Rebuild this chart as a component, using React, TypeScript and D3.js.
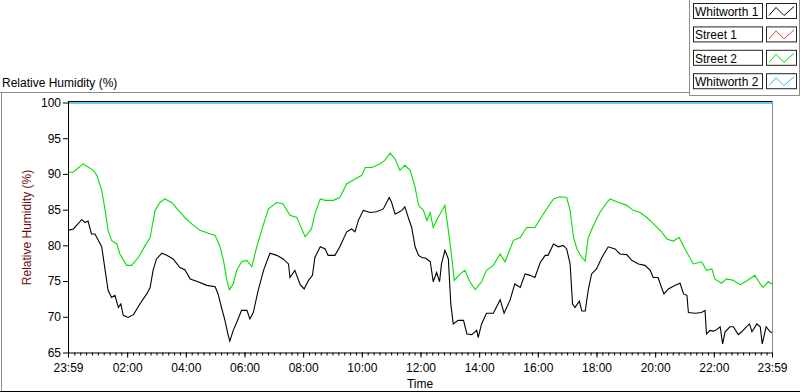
import { useRef, useEffect } from 'react';
import * as d3 from 'd3';

// legend entries (plot order)
const seriesNames = ['Whitworth 1', 'Street 1', 'Street 2', 'Whitworth 2'];
const seriesColors = ['#000000', '#ff4040', '#00e000', '#38b6f2'];

const yTicks = [65, 70, 75, 80, 85, 90, 95, 100];
const xTickLabels = ['23:59', '02:00', '04:00', '06:00', '08:00', '10:00', '12:00', '14:00', '16:00', '18:00', '20:00', '22:00', '23:59'];

// [minutes after 23:59, relative humidity %]
const whitworth1: [number, number][] = [
    [0, 82.1], [11, 82.3], [28, 83.6], [35, 83.2], [41, 83.4], [48, 81.6], [55, 81.6], [62, 80.7], [69, 79.8],
    [76, 76.5], [82, 73.7], [89, 72.7], [96, 73.0], [103, 71.3], [108, 71.8], [113, 70.2], [123, 69.9], [134, 70.3],
    [147, 71.8], [161, 73.2], [168, 74.1], [174, 76.5], [181, 78.1], [192, 78.9], [202, 78.6], [215, 78.1], [229, 76.9],
    [239, 76.6], [250, 75.3], [266, 74.9], [284, 74.4], [301, 74.2], [307, 73.2], [314, 71.3], [321, 69.5], [327, 67.6],
    [331, 66.6], [338, 68.1], [345, 69.2], [355, 70.9], [366, 70.9], [372, 69.7], [379, 70.6], [389, 73.7], [400, 76.5],
    [413, 78.9], [427, 78.6], [440, 78.1], [451, 77.4], [454, 75.5], [464, 76.5], [475, 74.5], [483, 73.9], [492, 75.1],
    [500, 75.8], [505, 78.3], [516, 79.8], [526, 79.5], [532, 78.6], [546, 78.6], [556, 79.8], [570, 81.9], [580, 82.3],
    [587, 81.9], [594, 83.5], [604, 84.9], [618, 84.6], [631, 84.7], [645, 85.1], [657, 86.7], [662, 86.0], [669, 84.4],
    [676, 84.6], [683, 84.9], [689, 85.4], [696, 83.9], [703, 82.5], [710, 79.8], [717, 78.6], [724, 78.3], [732, 78.2],
    [741, 77.7], [747, 74.9], [754, 76.2], [760, 74.9], [764, 77.4], [771, 79.3], [778, 78.1], [783, 71.8], [788, 69.0],
    [798, 69.5], [809, 69.5], [816, 67.6], [826, 67.5], [836, 68.1], [839, 67.1], [846, 69.0], [856, 70.5], [870, 70.5],
    [884, 72.4], [892, 70.5], [904, 72.3], [914, 74.6], [925, 74.1], [935, 76.0], [945, 75.8], [955, 75.5], [966, 77.6],
    [976, 78.6], [982, 78.6], [993, 80.2], [1003, 79.8], [1013, 80.0], [1020, 79.5], [1027, 77.4], [1032, 71.8],
    [1037, 71.3], [1046, 72.2], [1051, 70.8], [1058, 70.8], [1064, 73.7], [1071, 76.0], [1081, 76.7], [1092, 78.3],
    [1105, 79.8], [1119, 79.5], [1129, 78.8], [1143, 78.7], [1153, 77.9], [1167, 77.4], [1180, 77.2], [1191, 76.5],
    [1197, 75.5], [1207, 75.5], [1214, 74.1], [1219, 73.2], [1228, 73.9], [1242, 74.4], [1252, 74.7], [1259, 73.2],
    [1266, 73.0], [1269, 70.6], [1283, 70.5], [1296, 70.6], [1303, 70.9], [1306, 67.6], [1313, 68.1], [1320, 68.0],
    [1327, 68.2], [1334, 68.6], [1339, 66.2], [1344, 67.9], [1354, 68.6], [1361, 68.6], [1371, 67.5], [1378, 67.9],
    [1385, 68.4], [1394, 69.0], [1399, 67.9], [1409, 69.0], [1416, 68.6], [1420, 66.2], [1428, 68.6], [1436, 67.9],
    [1440, 67.8],
];

const street1: [number, number][] = [];

const street2: [number, number][] = [
    [0, 90.3], [10, 90.2], [31, 91.4], [52, 90.5], [59, 89.8], [69, 87.7], [76, 84.9], [82, 82.1], [89, 80.7],
    [100, 80.2], [106, 78.8], [120, 77.2], [130, 77.2], [144, 78.3], [158, 80.0], [168, 81.1], [178, 84.9], [188, 86.0],
    [198, 86.5], [212, 86.0], [226, 84.9], [239, 83.9], [253, 83.0], [270, 82.1], [287, 81.7], [301, 81.4], [311, 79.8],
    [318, 77.9], [325, 75.1], [330, 73.8], [338, 74.6], [345, 76.5], [355, 77.7], [366, 77.9], [376, 77.0], [386, 79.8],
    [396, 82.1], [410, 85.1], [427, 86.0], [440, 85.8], [454, 84.2], [468, 83.9], [475, 82.8], [485, 81.2], [498, 82.3],
    [505, 84.4], [516, 86.5], [526, 86.3], [543, 86.3], [556, 86.7], [570, 88.6], [587, 89.3], [601, 89.8], [608, 90.9],
    [621, 90.9], [638, 91.4], [648, 91.9], [659, 92.9], [669, 92.1], [679, 90.5], [689, 91.2], [700, 90.5], [710, 88.1],
    [717, 85.6], [727, 84.9], [734, 83.5], [741, 84.6], [747, 82.5], [754, 83.5], [771, 85.6], [778, 82.1], [785, 78.3],
    [790, 75.1], [802, 76.0], [812, 76.5], [822, 74.9], [833, 73.8], [846, 74.9], [856, 76.5], [870, 77.2], [884, 78.8],
    [894, 77.7], [911, 80.7], [925, 81.1], [938, 82.5], [955, 82.5], [966, 83.7], [979, 85.1], [993, 86.5], [1006, 86.8],
    [1020, 86.7], [1027, 84.9], [1034, 81.1], [1041, 79.5], [1051, 78.3], [1058, 77.8], [1064, 81.1], [1075, 82.8],
    [1088, 84.6], [1102, 86.0], [1109, 86.5], [1126, 86.0], [1143, 85.6], [1156, 84.9], [1170, 84.6], [1184, 83.9],
    [1201, 82.8], [1214, 81.9], [1225, 80.9], [1238, 80.6], [1250, 81.1], [1262, 79.5], [1269, 78.6], [1279, 77.4],
    [1296, 77.7], [1306, 76.5], [1317, 76.7], [1323, 75.3], [1337, 74.7], [1347, 75.3], [1361, 75.1], [1375, 74.5],
    [1388, 75.0], [1405, 75.8], [1416, 74.6], [1422, 74.1], [1432, 74.9], [1440, 74.6],
];

const whitworth2: [number, number][] = [[0, 100], [1440, 100]];

const allSeries = [whitworth1, street1, street2, whitworth2];

const FONT = '"Liberation Sans", Arial, sans-serif';

const HumidityChart = () => {
    const svgRef = useRef<SVGSVGElement | null>(null);

    const renderChart = () => {
        const svgElement = svgRef.current;
        if (!svgElement) return;

        const width = 800;
        const height = 392;
        const margin = { top: 102.5, right: 28, bottom: 39.5, left: 68 };

        const svg = d3.select(svgElement)
            .attr('width', width)
            .attr('height', height);

        svg.selectAll('*').remove();

        const start = new Date(2020, 0, 1, 23, 59);
        const toDate = (m: number) => d3.timeMinute.offset(start, m);

        const x = d3.scaleTime()
            .domain([start, toDate(1440)])
            .range([margin.left, width - margin.right]);

        const y = d3.scaleLinear()
            .domain([65, 100])
            .range([height - margin.bottom, margin.top]);

        const x0 = x.range()[0];
        const x1 = x.range()[1];
        const yTop = y(100);
        const yBot = y(65);

        // outer frame lines
        svg.append('line').attr('x1', 0).attr('x2', 689.5).attr('y1', 92.5).attr('y2', 92.5).attr('stroke', '#8c8c8c');
        svg.append('line').attr('x1', 1.5).attr('x2', 1.5).attr('y1', 92.5).attr('y2', 391).attr('stroke', '#8c8c8c');
        svg.append('line').attr('x1', 689.5).attr('x2', 689.5).attr('y1', 0).attr('y2', 95.5).attr('stroke', '#8c8c8c');
        svg.append('line').attr('x1', 689.5).attr('x2', 800).attr('y1', 95.5).attr('y2', 95.5).attr('stroke', '#8c8c8c');
        svg.append('line').attr('x1', 799.5).attr('x2', 799.5).attr('y1', 0).attr('y2', 95.5).attr('stroke', '#8c8c8c');
        svg.append('line').attr('x1', 0).attr('x2', 800).attr('y1', 391.5).attr('y2', 391.5).attr('stroke', '#000');

        svg.append('text')
            .attr('x', 2)
            .attr('y', 87)
            .text('Relative Humidity (%)')
            .style('font-family', FONT)
            .style('font-size', '12px')
            .style('fill', '#000');

        // plot border
        svg.append('line').attr('x1', x0).attr('x2', x1).attr('y1', yTop - 1).attr('y2', yTop - 1).attr('stroke', '#000');
        svg.append('line').attr('x1', x1 + 0.5).attr('x2', x1 + 0.5).attr('y1', yTop - 1.5).attr('y2', yBot).attr('stroke', '#8c8c8c');

        // y axis
        const yAxis = svg.append('g')
            .attr('transform', `translate(${x0}, 0)`)
            .call(d3.axisLeft(y).tickValues(yTicks).tickSize(5).tickSizeOuter(0).tickPadding(2));

        yAxis.selectAll('path, line').attr('stroke', '#000');
        yAxis.selectAll('text')
            .style('font-family', FONT)
            .style('font-size', '12px')
            .attr('fill', '#000');

        svg.append('text')
            .attr('transform', `translate(31, ${(yTop + yBot) / 2}) rotate(-90)`)
            .attr('text-anchor', 'middle')
            .text('Relative Humidity (%)')
            .style('font-family', FONT)
            .style('font-size', '12px')
            .style('fill', '#6e0a0a');

        // x axis, minor ticks every 12 minutes
        const majorDates = xTickLabels.map((_, i) => toDate(i === 0 ? 0 : i === xTickLabels.length - 1 ? 1440 : i * 120 + 1));
        const minorDates = d3.range(13, 1440, 12).map(toDate);

        const xMinor = svg.append('g')
            .attr('transform', `translate(0, ${yBot})`)
            //@ts-ignore
            .call(d3.axisBottom(x).tickValues(minorDates).tickSize(3).tickSizeOuter(0).tickFormat(() => ''));
        xMinor.select('.domain').remove();
        xMinor.selectAll('line').attr('stroke', '#000');

        const xAxis = svg.append('g')
            .attr('transform', `translate(0, ${yBot})`)
            //@ts-ignore
            .call(d3.axisBottom(x).tickValues(majorDates).tickSize(5).tickSizeOuter(0).tickPadding(6)
                //@ts-ignore
                .tickFormat((_, i) => xTickLabels[i]));

        xAxis.selectAll('path, line').attr('stroke', '#000');
        xAxis.selectAll('text')
            .style('font-family', FONT)
            .style('font-size', '12px')
            .attr('fill', '#000');

        svg.append('text')
            .attr('x', (x0 + x1) / 2)
            .attr('y', 388)
            .attr('text-anchor', 'middle')
            .text('Time')
            .style('font-family', FONT)
            .style('font-size', '12px')
            .style('fill', '#000');

        // series
        const line = d3.line<[number, number]>()
            .x(d => x(toDate(d[0])))
            .y(d => y(d[1]));

        allSeries.forEach((data, i) => {
            if (!data.length) return;
            svg.append('path')
                .datum(data)
                .attr('fill', 'none')
                .attr('stroke', seriesColors[i])
                .attr('stroke-width', i === 3 ? 1.5 : 1.1)
                .attr('transform', i === 3 ? 'translate(0, 0.6)' : null)
                .attr('d', line(data) as string);
        });

        // left axis line on top
        svg.append('line').attr('x1', x0 + 0.5).attr('x2', x0 + 0.5).attr('y1', yTop - 1.5).attr('y2', yBot).attr('stroke', '#000');

        // legend
        const legend = svg.append('g');
        seriesNames.forEach((name, i) => {
            const top = 3.5 + i * 23.4;
            legend.append('rect')
                .attr('x', 693.5).attr('y', top)
                .attr('width', 69).attr('height', 15)
                .attr('fill', '#fff').attr('stroke', '#222');
            legend.append('text')
                .attr('x', 695).attr('y', top + 12.5)
                .text(name)
                .style('font-family', FONT)
                .style('font-size', '12px')
                .style('fill', '#000');
            legend.append('rect')
                .attr('x', 766.5).attr('y', top)
                .attr('width', 30).attr('height', 15)
                .attr('fill', '#fff').attr('stroke', '#222');
            legend.append('path')
                .attr('d', `M${769},${top + 12} L${776},${top + 4} L${784},${top + 12} L${794},${top + 3}`)
                .attr('fill', 'none')
                .attr('stroke', seriesColors[i])
                .attr('stroke-width', 1);
        });
    };

    useEffect(() => {
        document.body.style.margin = '0';
        renderChart();
    }, []);

    return (
        <div style={{ width: 800, height: 392, background: '#fff' }}>
            <svg ref={svgRef} style={{ display: 'block' }}></svg>
        </div>
    );
};

export default function App() {
    return <HumidityChart />;
}
